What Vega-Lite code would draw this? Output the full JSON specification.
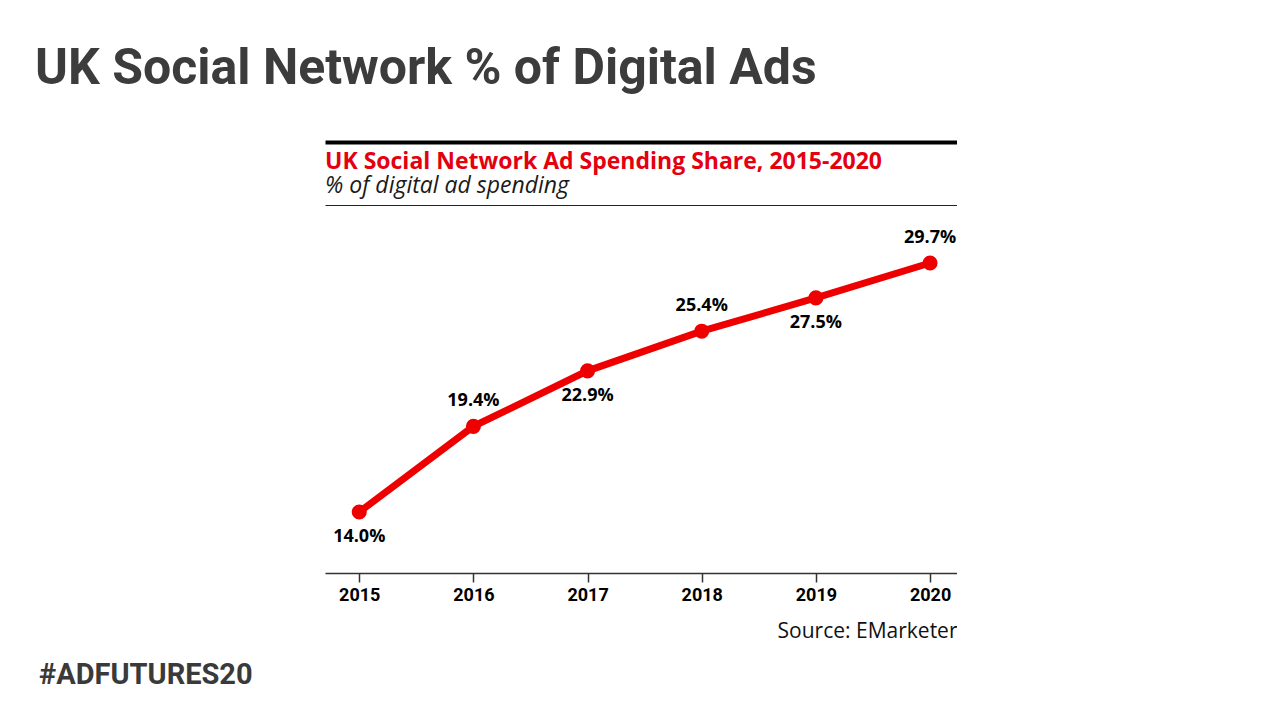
{
  "$schema": "https://vega.github.io/schema/vega-lite/v6.json",
  "padding": {"left": 35, "top": 44, "right": 0, "bottom": 0},
  "background": "white",
  "title": {
    "text": "#ADFUTURES20",
    "orient": "bottom",
    "anchor": "start",
    "frame": "group",
    "offset": 20,
    "dx": -286,
    "font": "Roboto",
    "fontSize": 29,
    "fontWeight": "bold",
    "color": "#3a3a3a"
  },
  "vconcat": [
    {
      "title": {
        "text": "UK Social Network % of Digital Ads",
        "anchor": "start",
        "frame": "group",
        "dx": -290,
        "offset": 48,
        "font": "Roboto",
        "fontSize": 50,
        "fontWeight": "bold",
        "color": "#3c3c3c"
      },
      "vconcat": [
        {
          "width": 632,
          "height": 368,
          "title": {
            "text": "UK Social Network Ad Spending Share, 2015-2020",
            "subtitle": "% of digital ad spending",
            "anchor": "start",
            "frame": "group",
            "offset": 0,
            "dy": 56,
            "font": "Open Sans",
            "fontSize": 23,
            "fontWeight": "bold",
            "color": "#e4000f",
            "subtitleFont": "Open Sans",
            "subtitleFontSize": 23,
            "subtitleFontStyle": "italic",
            "subtitleFontWeight": "normal",
            "subtitleColor": "#1a1a1a",
            "subtitlePadding": 1
          },
          "data": {
            "values": [
              {"year": 2015, "share": 14.0, "label": "14.0%"},
              {"year": 2016, "share": 19.4, "label": "19.4%"},
              {"year": 2017, "share": 22.9, "label": "22.9%"},
              {"year": 2018, "share": 25.4, "label": "25.4%"},
              {"year": 2019, "share": 27.5, "label": "27.5%"},
              {"year": 2020, "share": 29.7, "label": "29.7%"}
            ]
          },
          "encoding": {
            "x": {
              "field": "year",
              "type": "quantitative",
              "scale": {"domain": [2014.7, 2020.236], "nice": false, "zero": false},
              "axis": {
                "orient": "bottom",
                "values": [2015, 2016, 2017, 2018, 2019, 2020],
                "format": "d",
                "grid": false,
                "title": "Source: EMarketer",
                "titleAnchor": "end",
                "titleAlign": "right",
                "titleFont": "Open Sans",
                "titleFontSize": 21,
                "titleFontWeight": "normal",
                "titleColor": "#111111",
                "titlePadding": 16,
                "labelFont": "Roboto",
                "labelFontSize": 18,
                "labelFontWeight": "bold",
                "labelColor": "#000000",
                "labelPadding": 4,
                "labelFlush": false,
                "tickSize": 9,
                "tickWidth": 1.5,
                "tickColor": "#333333",
                "domainColor": "#333333",
                "domainWidth": 1.5
              }
            },
            "y": {
              "field": "share",
              "type": "quantitative",
              "scale": {"domain": [10.154, 33.357], "nice": false, "zero": false},
              "axis": null
            }
          },
          "layer": [
            {
              "mark": {"type": "line", "color": "#ee0000", "strokeWidth": 7}
            },
            {
              "mark": {"type": "circle", "color": "#ee0000", "size": 227, "opacity": 1},
              "encoding": {
                "x": {
                  "field": "year",
                  "type": "quantitative",
                  "axis": {
                    "orient": "top",
                    "offset": 63,
                    "domain": true,
                    "domainColor": "#000000",
                    "domainWidth": 4,
                    "ticks": false,
                    "labels": false,
                    "grid": false,
                    "title": null
                  }
                }
              }
            },
            {
              "transform": [{"filter": {"field": "year", "oneOf": [2016, 2018, 2020]}}],
              "mark": {"type": "text", "dy": -25, "baseline": "middle", "align": "center", "font": "Open Sans", "fontSize": 18, "fontWeight": "bold", "color": "#000000"},
              "encoding": {
                "x": {
                  "field": "year",
                  "type": "quantitative",
                  "axis": {
                    "orient": "top",
                    "offset": 0,
                    "domain": true,
                    "domainColor": "#222222",
                    "domainWidth": 1.2,
                    "ticks": false,
                    "labels": false,
                    "grid": false,
                    "title": null
                  }
                },
                "text": {"field": "label", "type": "nominal"}
              }
            },
            {
              "transform": [{"filter": {"field": "year", "oneOf": [2015, 2017, 2019]}}],
              "mark": {"type": "text", "dy": 25, "baseline": "middle", "align": "center", "font": "Open Sans", "fontSize": 18, "fontWeight": "bold", "color": "#000000"},
              "encoding": {
                "x": {"field": "year", "type": "quantitative", "axis": null},
                "text": {"field": "label", "type": "nominal"}
              }
            }
          ],
          "resolve": {"axis": {"x": "independent"}}
        }
      ]
    }
  ],
  "config": {
    "view": {"stroke": null},
    "concat": {"spacing": 0}
  }
}
